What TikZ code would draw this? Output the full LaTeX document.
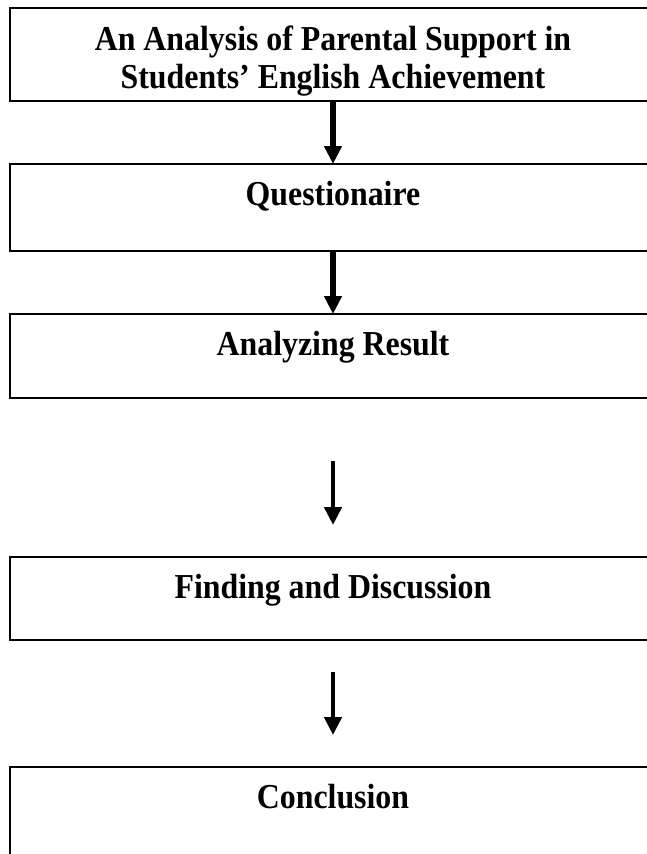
\documentclass[tikz,border=0pt]{standalone}
\usepackage{fontspec}
\setmainfont{Liberation Serif}[FakeStretch=0.91]
\usetikzlibrary{arrows.meta,positioning}

\begin{document}
\begin{tikzpicture}[x=1pt,y=-1pt,>={Triangle[width=17pt,length=18pt]},
	stage/.style={draw,line width=2pt,inner sep=0pt,outer sep=0pt,minimum width=646pt,align=center,
		font=\bfseries\fontsize{35}{38}\selectfont},
	flow/.style={->,line width=5.5pt},
	slimflow/.style={line width=4.5pt}]
		\path[use as bounding box,clip] (0,0) rectangle (647,854);
		\node[stage,anchor=north west,text height=80pt,text depth=13pt] (title) at (10,8)
			{An Analysis of Parental Support in\\Students' English Achievement};
		\node[stage,below=63pt of title,text height=41pt,text depth=46pt] (quest) {Questionaire};
		\node[stage,below=63pt of quest,text height=41pt,text depth=43pt] (analysis) {Analyzing Result};
		\node[stage,below=159pt of analysis,text height=41pt,text depth=42pt] (finding) {Finding and Discussion};
		\node[stage,below=127pt of finding,text height=41pt,text depth=70pt] (conclusion) {Conclusion};
		\path[flow]
			(title) edge (quest)
			(quest) edge (analysis)
			(analysis) edge [slimflow,shorten <=63pt,shorten >=32pt] (finding)
			(finding) edge [slimflow,shorten <=32pt,shorten >=32pt] (conclusion);
	\end{tikzpicture}
\end{document}
